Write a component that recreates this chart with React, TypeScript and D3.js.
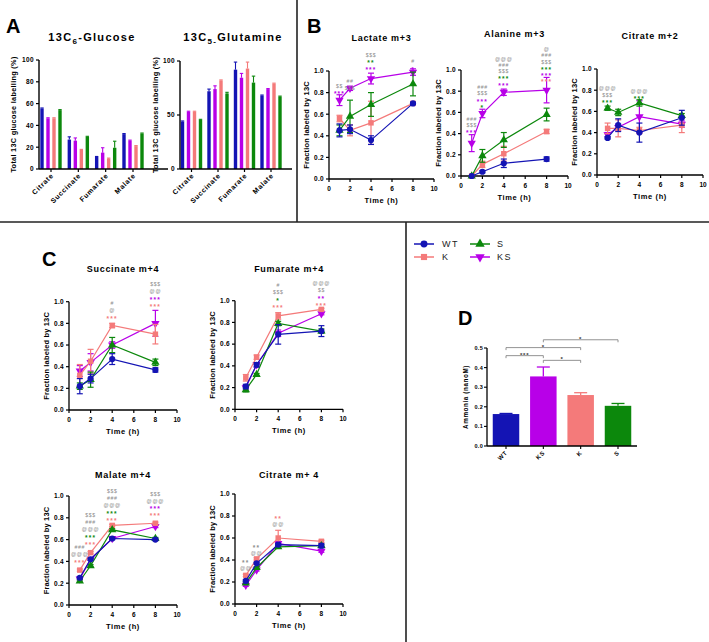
import React from "react";
import * as d3 from "d3";

const FONT = "'Liberation Sans', Arial, Helvetica, sans-serif";

// ---------------- groups ----------------
const groups = ["WT", "K", "S", "KS"];
const colors = ["#1414b4", "#f47a7a", "#0c880c", "#b800e8"];
const GREY = "#8c8c8c";
const colorOf = (g: string) => (g === "" ? GREY : colors[groups.indexOf(g)]);

// ---------------- Panel A ----------------
const metabolitesA = ["Citrate", "Succinate", "Fumarate", "Malate"];
const barGroupsA = ["WT", "KS", "K", "S"];
const glucoseMean = [
  [55.5, 27, 11, 32],
  [46.5, 26, 15, 26],
  [46.5, 17.5, 9.5, 21],
  [54, 29.5, 19.5, 32.5],
];
const glucoseErr = [
  [0.5, 2.5, 0.5, 0.5],
  [0.5, 2.5, 4.5, 0.5],
  [0.5, 0.5, 0.5, 0.5],
  [0.5, 0.5, 6, 0.5],
];
const glucoseTicks = [0, 20, 40, 60, 80, 100];
const glutamineMean = [
  [44, 72, 92, 68],
  [53, 74, 84.5, 74],
  [53, 82, 93, 79],
  [45.5, 70, 80, 67],
];
const glutamineErr = [
  [0.5, 2, 7, 0.5],
  [0.5, 3, 4, 0.5],
  [0.5, 0.5, 6, 0.5],
  [0.5, 1, 6, 0.5],
];
const glutamineTicks = [0, 50, 100];

// ---------------- Panels B / C ----------------
const timePoints = [1, 2, 4, 8];
const timeTicks = [0, 2, 4, 6, 8, 10];
const fracTicks = [0, 0.2, 0.4, 0.6, 0.8, 1.0];

// series order: WT, K, S, KS
const lactateMean = [
  [0.45, 0.46, 0.36, 0.70],
  [0.56, 0.45, 0.52, 0.70],
  [0.45, 0.58, 0.69, 0.88],
  [0.73, 0.84, 0.93, 0.99],
];
const lactateErr = [
  [0.06, 0.04, 0.04, 0.01],
  [0.03, 0.05, 0.2, 0.01],
  [0.05, 0.15, 0.11, 0.11],
  [0.05, 0.02, 0.05, 0.03],
];
const alanineMean = [
  [0.0, 0.04, 0.12, 0.16],
  [0.0, 0.11, 0.21, 0.42],
  [0.0, 0.19, 0.34, 0.58],
  [0.31, 0.59, 0.79, 0.81],
];
const alanineErr = [
  [0, 0.01, 0.04, 0.02],
  [0, 0.03, 0.07, 0.02],
  [0, 0.06, 0.07, 0.06],
  [0.08, 0.04, 0.03, 0.12],
];
const citrate2Mean = [
  [0.35, 0.47, 0.40, 0.54],
  [0.44, 0.44, 0.42, 0.47],
  [0.63, 0.59, 0.68, 0.56],
  [0.38, 0.45, 0.55, 0.48],
];
const citrate2Err = [
  [0.01, 0.06, 0.09, 0.07],
  [0.05, 0.08, 0.03, 0.07],
  [0.02, 0.03, 0.03, 0.02],
  [0.02, 0.03, 0.15, 0.03],
];
const succinateMean = [
  [0.22, 0.29, 0.47, 0.37],
  [0.32, 0.45, 0.78, 0.70],
  [0.22, 0.28, 0.60, 0.44],
  [0.36, 0.44, 0.60, 0.80],
];
const succinateErr = [
  [0.07, 0.04, 0.05, 0.02],
  [0.1, 0.11, 0.02, 0.09],
  [0.03, 0.07, 0.07, 0.03],
  [0.05, 0.08, 0.03, 0.12],
];
const fumarateMean = [
  [0.21, 0.41, 0.69, 0.72],
  [0.29, 0.48, 0.86, 0.92],
  [0.18, 0.32, 0.79, 0.72],
  [0.20, 0.41, 0.70, 0.88],
];
const fumarateErr = [
  [0.02, 0.02, 0.09, 0.05],
  [0.03, 0.02, 0.03, 0.01],
  [0.02, 0.01, 0.02, 0.02],
  [0.02, 0.02, 0.03, 0.01],
];
const malateMean = [
  [0.25, 0.42, 0.61, 0.60],
  [0.32, 0.48, 0.73, 0.75],
  [0.22, 0.36, 0.69, 0.61],
  [0.24, 0.42, 0.61, 0.72],
];
const malateErr = [
  [0.01, 0.01, 0.01, 0.01],
  [0.01, 0.01, 0.01, 0.01],
  [0.01, 0.01, 0.01, 0.01],
  [0.01, 0.01, 0.01, 0.01],
];
const citrate4Mean = [
  [0.21, 0.37, 0.54, 0.53],
  [0.26, 0.41, 0.60, 0.57],
  [0.19, 0.33, 0.52, 0.53],
  [0.17, 0.31, 0.55, 0.48],
];
const citrate4Err = [
  [0.01, 0.01, 0.01, 0.02],
  [0.01, 0.01, 0.07, 0.01],
  [0.01, 0.01, 0.01, 0.01],
  [0.01, 0.01, 0.01, 0.01],
];

type Note = { t: number; v: number; lines: [string, string][] };
const lactateNotes: Note[] = [
  { t: 1, v: 0.8, lines: [["$$", ""], ["***", "KS"]] },
  { t: 2, v: 0.845, lines: [["##", ""], ["$$$", ""]] },
  { t: 4, v: 1.03, lines: [["$$$", ""], ["**", "S"], ["***", "KS"]] },
  { t: 8, v: 1.03, lines: [["#", ""], ["*", "KS"]] },
];
const alanineNotes: Note[] = [
  { t: 1, v: 0.42, lines: [["###", ""], ["$$$", ""], ["***", "KS"]] },
  { t: 2, v: 0.66, lines: [["###", ""], ["$$$", ""], ["***", "KS"], ["*", "S"]] },
  { t: 4, v: 0.87, lines: [["@@@", ""], ["###", ""], ["$$$", ""], ["***", "S"], ["***", "KS"]] },
  { t: 8, v: 0.9, lines: [["@", ""], ["###", ""], ["$$$", ""], ["***", "S"], ["***", "KS"], ["***", "K"]] },
];
const citrate2Notes: Note[] = [
  { t: 1, v: 0.7, lines: [["@@@", ""], ["$$$", ""], ["***", "S"]] },
  { t: 4, v: 0.73, lines: [["@@@", ""], ["***", "S"]] },
];
const succinateNotes: Note[] = [
  { t: 4, v: 0.86, lines: [["#", ""], ["@", ""], ["***", "K"]] },
  { t: 8, v: 0.97, lines: [["$$$", ""], ["@@", ""], ["***", "KS"], ["***", "K"]] },
];
const fumarateNotes: Note[] = [
  { t: 4, v: 0.95, lines: [["#", ""], ["$$$", ""], ["*", "S"], ["***", "K"]] },
  { t: 8, v: 0.97, lines: [["@@@", ""], ["$$", ""], ["**", "KS"], ["***", "K"]] },
];
const malateNotes: Note[] = [
  { t: 1, v: 0.4, lines: [["###", ""], ["@@@", ""], ["***", "K"]] },
  { t: 2, v: 0.57, lines: [["$$$", ""], ["###", ""], ["@@@", ""], ["***", "S"], ["***", "K"]] },
  { t: 4, v: 0.79, lines: [["$$$", ""], ["###", ""], ["@@@", ""], ["***", "S"], ["***", "K"]] },
  { t: 8, v: 0.83, lines: [["$$$", ""], ["@@@", ""], ["***", "KS"], ["***", "K"]] },
];
const citrate4Notes: Note[] = [
  { t: 1, v: 0.33, lines: [["**", ""], ["@@", ""]] },
  { t: 2, v: 0.46, lines: [["**", ""], ["@@", ""]] },
  { t: 4, v: 0.73, lines: [["**", "K"], ["@@", ""]] },
];

// ---------------- Panel D ----------------
const ammoniaGroups = ["WT", "KS", "K", "S"];
const ammoniaMean = [0.163, 0.355, 0.26, 0.205];
const ammoniaErr = [0.003, 0.048, 0.012, 0.012];
const ammoniaTicks = [0, 0.1, 0.2, 0.3, 0.4, 0.5];
const ammoniaComparisons: [string, string, string, number][] = [
  ["KS", "S", "*", 0.542],
  ["WT", "K", "*", 0.502],
  ["WT", "KS", "***", 0.461],
  ["KS", "K", "*", 0.437],
];

// ---------------- helpers ----------------
function Marker({ g, x, y, size = 30 }: { g: string; x: number; y: number; size?: number }) {
  const i = groups.indexOf(g);
  const type = [d3.symbolCircle, d3.symbolSquare, d3.symbolTriangle, d3.symbolTriangle][i];
  const d = d3.symbol().type(type).size(size)() as string;
  return (
    <path
      d={d}
      transform={`translate(${x},${y})${i === 3 ? " rotate(180)" : ""}`}
      fill={colors[i]}
    />
  );
}

type LineProps = {
  title: string;
  titleY: number;
  x0: number;
  x1: number;
  yTop: number;
  yBot: number;
  means: number[][];
  errs: number[][];
  notes: Note[];
  gap: number;
};

function LinePanel({ title, titleY, x0, x1, yTop, yBot, means, errs, notes, gap }: LineProps) {
  const x = d3.scaleLinear().domain([0, 10]).range([x0, x1]);
  const y = d3.scaleLinear().domain([0, 1]).range([yBot, yTop]);
  const line = d3
    .line<number>()
    .x((_, i) => x(timePoints[i]))
    .y((d) => y(d));
  const order = [3, 1, 2, 0];
  const fmt = d3.format(".1f");
  return (
    <g fontFamily={FONT} fontWeight="bold">
      <text x={(x0 + x1) / 2} y={titleY} textAnchor="middle" fontSize={9} letterSpacing={0.7}>
        {title}
      </text>
      <line x1={x0} x2={x1} y1={yBot} y2={yBot} stroke="#000" strokeWidth={1.3} />
      <line x1={x0} x2={x0} y1={yBot} y2={yTop} stroke="#000" strokeWidth={1.3} />
      {timeTicks.map((t) => (
        <g key={"xt" + t}>
          <line x1={x(t)} x2={x(t)} y1={yBot} y2={yBot + 3} stroke="#000" strokeWidth={1.2} />
          <text x={x(t)} y={yBot + 11.5} textAnchor="middle" fontSize={6.5}>
            {t}
          </text>
        </g>
      ))}
      {fracTicks.map((v) => (
        <g key={"yt" + v}>
          <line x1={x0 - 3} x2={x0} y1={y(v)} y2={y(v)} stroke="#000" strokeWidth={1.2} />
          <text x={x0 - 5} y={y(v) + 2.3} textAnchor="end" fontSize={6.5} letterSpacing={0.3}>
            {fmt(v)}
          </text>
        </g>
      ))}
      <text
        x={(x0 + x1) / 2}
        y={yBot + 24}
        textAnchor="middle"
        fontSize={7.5}
        letterSpacing={0.6}
      >
        Time (h)
      </text>
      <text
        transform={`translate(${x0 - 20},${(yTop + yBot) / 2}) rotate(-90)`}
        textAnchor="middle"
        fontSize={7.5}
        letterSpacing={0.15}
      >
        Fraction labeled by 13C
      </text>
      {order.map((i) => (
        <g key={"s" + i}>
          <path d={line(means[i]) as string} fill="none" stroke={colors[i]} strokeWidth={1.2} />
          {means[i].map((m, j) =>
            errs[i][j] > 0.005 ? (
              <g key={"e" + j} stroke={colors[i]} strokeWidth={1.2}>
                <line
                  x1={x(timePoints[j])}
                  x2={x(timePoints[j])}
                  y1={y(m - errs[i][j])}
                  y2={y(m + errs[i][j])}
                />
                <line
                  x1={x(timePoints[j]) - 3}
                  x2={x(timePoints[j]) + 3}
                  y1={y(m + errs[i][j])}
                  y2={y(m + errs[i][j])}
                />
                <line
                  x1={x(timePoints[j]) - 3}
                  x2={x(timePoints[j]) + 3}
                  y1={y(m - errs[i][j])}
                  y2={y(m - errs[i][j])}
                />
              </g>
            ) : null
          )}
          {means[i].map((m, j) => (
            <Marker key={"m" + j} g={groups[i]} x={x(timePoints[j])} y={y(m)} size={30} />
          ))}
        </g>
      ))}
      {notes.map((n, k) =>
        n.lines.map(([txt, g], li) => {
          const yy = y(n.v) - (n.lines.length - 1 - li) * gap;
          const star = txt.startsWith("*");
          return (
            <text
              key={"n" + k + "_" + li}
              x={x(n.t)}
              y={yy + (star ? 3.8 : 2)}
              textAnchor="middle"
              fontSize={star ? 6.5 : 5.2}
              fontWeight={star ? "bold" : "normal"}
              letterSpacing={star ? 1.2 : 0.6}
              fill={colorOf(g)}
            >
              {txt}
            </text>
          );
        })
      )}
    </g>
  );
}

type BarProps = {
  axisX: number;
  axisEnd: number;
  yTop: number;
  yBot: number;
  c0: number;
  c3: number;
  means: number[][];
  errs: number[][];
  ticks: number[];
  labelX: number;
};

function BarPanelA({ axisX, axisEnd, yTop, yBot, c0, c3, means, errs, ticks, labelX }: BarProps) {
  const y = d3.scaleLinear().domain([0, 100]).range([yBot, yTop]);
  const bx = d3.scalePoint<string>().domain(metabolitesA).range([c0, c3]);
  const inner = d3.scaleBand<string>().domain(barGroupsA).range([-12, 12]);
  const bw = 3.4;
  return (
    <g fontFamily={FONT} fontWeight="bold">
      {barGroupsA.map((g, gi) =>
        metabolitesA.map((m, mi) => {
          const cx = (bx(m) as number) + (inner(g) as number) + inner.bandwidth() / 2;
          const col = colorOf(g);
          const top = y(means[gi][mi] + errs[gi][mi]);
          return (
            <g key={g + m}>
              <line x1={cx} x2={cx} y1={y(means[gi][mi])} y2={top} stroke={col} strokeWidth={1.1} />
              <line x1={cx - bw / 2} x2={cx + bw / 2} y1={top} y2={top} stroke={col} strokeWidth={1.1} />
              <rect
                x={cx - bw / 2}
                y={y(means[gi][mi])}
                width={bw}
                height={yBot - y(means[gi][mi])}
                fill={col}
              />
            </g>
          );
        })
      )}
      <line x1={axisX} x2={axisEnd} y1={yBot} y2={yBot} stroke="#000" strokeWidth={1.4} />
      <line x1={axisX} x2={axisX} y1={yBot} y2={yTop} stroke="#000" strokeWidth={1.4} />
      {ticks.map((v) => (
        <g key={"t" + v}>
          <line x1={axisX - 3} x2={axisX} y1={y(v)} y2={y(v)} stroke="#000" strokeWidth={1.2} />
          <text x={axisX - 5} y={y(v) + 2.3} textAnchor="end" fontSize={6.5} letterSpacing={0.4}>
            {v}
          </text>
        </g>
      ))}
      {metabolitesA.map((m) => (
        <g key={"x" + m}>
          <line
            x1={bx(m) as number}
            x2={bx(m) as number}
            y1={yBot}
            y2={yBot + 3}
            stroke="#000"
            strokeWidth={1.2}
          />
          <text
            transform={`translate(${(bx(m) as number) + 3},${yBot + 7}) rotate(-45)`}
            textAnchor="end"
            fontSize={7}
            letterSpacing={0.7}
          >
            {m}
          </text>
        </g>
      ))}
      <text
        transform={`translate(${labelX},${(yTop + yBot) / 2}) rotate(-90)`}
        textAnchor="middle"
        fontSize={7.3}
        letterSpacing={0.3}
      >
        Total 13C glucose labelling (%)
      </text>
    </g>
  );
}

function PanelD() {
  const y = d3.scaleLinear().domain([0, 0.5]).range([446, 348]);
  const bx = d3.scalePoint<string>().domain(ammoniaGroups).range([506, 618]);
  const bw = 26.5;
  const axisX = 487;
  const fmt = d3.format(".1f");
  return (
    <g fontFamily={FONT} fontWeight="bold">
      {ammoniaGroups.map((g, i) => {
        const cx = bx(g) as number;
        const col = colorOf(g);
        const top = y(ammoniaMean[i] + ammoniaErr[i]);
        return (
          <g key={g}>
            <line x1={cx} x2={cx} y1={y(ammoniaMean[i])} y2={top} stroke={col} strokeWidth={1.3} />
            <line x1={cx - 6.5} x2={cx + 6.5} y1={top} y2={top} stroke={col} strokeWidth={1.3} />
            <rect
              x={cx - bw / 2}
              y={y(ammoniaMean[i])}
              width={bw}
              height={y(0) - y(ammoniaMean[i])}
              fill={col}
            />
            <line x1={cx} x2={cx} y1={y(0)} y2={y(0) + 3} stroke="#000" strokeWidth={1.1} />
            <text
              transform={`translate(${cx + 2},${y(0) + 7}) rotate(-45)`}
              textAnchor="end"
              fontSize={6}
              letterSpacing={0.8}
            >
              {g}
            </text>
          </g>
        );
      })}
      <line x1={axisX} x2={637} y1={y(0)} y2={y(0)} stroke="#000" strokeWidth={1.3} />
      <line x1={axisX} x2={axisX} y1={y(0)} y2={y(0.5)} stroke="#000" strokeWidth={1.3} />
      {ammoniaTicks.map((v) => (
        <g key={"t" + v}>
          <line x1={axisX - 3} x2={axisX} y1={y(v)} y2={y(v)} stroke="#000" strokeWidth={1.1} />
          <text x={axisX - 4} y={y(v) + 2} textAnchor="end" fontSize={5.5} letterSpacing={0.3}>
            {fmt(v)}
          </text>
        </g>
      ))}
      <text
        transform={`translate(468,${(y(0) + y(0.5)) / 2}) rotate(-90)`}
        textAnchor="middle"
        fontSize={6.3}
        letterSpacing={0.6}
      >
        Ammonia (nanoM)
      </text>
      {ammoniaComparisons.map(([a, b, lab, v], k) => {
        const xa = bx(a) as number;
        const xb = bx(b) as number;
        const yy = y(v);
        return (
          <g key={"c" + k}>
            <path
              d={`M${xa},${yy + 2.5}V${yy}H${xb}V${yy + 2.5}`}
              fill="none"
              stroke="#777"
              strokeWidth={0.8}
            />
            <text x={(xa + xb) / 2} y={yy + 1} textAnchor="middle" fontSize={6} fill="#333" letterSpacing={0.8}>
              {lab}
            </text>
          </g>
        );
      })}
    </g>
  );
}

function Legend() {
  const rows = [
    ["WT", 424, 244, 442],
    ["S", 480, 244, 497],
    ["K", 424, 257, 442],
    ["KS", 480, 257, 497],
  ] as [string, number, number, number][];
  return (
    <g fontFamily={FONT}>
      {rows.map(([g, mx, my, tx]) => (
        <g key={g}>
          <line x1={mx - 10} x2={mx + 10} y1={my} y2={my} stroke={colorOf(g)} strokeWidth={1.5} />
          <Marker g={g} x={mx} y={my} size={38} />
          <text x={tx} y={my + 3.3} fontSize={9} letterSpacing={1.5} fill="#222">
            {g}
          </text>
        </g>
      ))}
    </g>
  );
}

export default function App() {
  return (
    <svg
      width={709}
      height={642}
      style={{ position: "absolute", left: 0, top: 0, background: "#fff" }}
      fontFamily={FONT}
    >
      <rect width={709} height={642} fill="#fff" />
      {/* separators */}
      <line x1={0} x2={709} y1={222} y2={222} stroke="#222" strokeWidth={1.6} />
      <line x1={297} x2={297} y1={0} y2={222} stroke="#222" strokeWidth={1.6} />
      <line x1={406} x2={406} y1={222} y2={642} stroke="#222" strokeWidth={1.6} />

      {/* panel labels */}
      <text x={6} y={33} fontSize={20} fontWeight="bold" fontFamily={FONT}>A</text>
      <text x={307} y={33} fontSize={20} fontWeight="bold" fontFamily={FONT}>B</text>
      <text x={42} y={266} fontSize={20} fontWeight="bold" fontFamily={FONT}>C</text>
      <text x={458} y={325} fontSize={20} fontWeight="bold" fontFamily={FONT}>D</text>

      {/* Panel A */}
      <text x={92} y={41} textAnchor="middle" fontSize={11} fontWeight="bold" letterSpacing={1.3} fontFamily={FONT}>
        13C<tspan dy={3} fontSize={8}>6</tspan>
        <tspan dy={-3}>-Glucose</tspan>
      </text>
      <BarPanelA
        axisX={39}
        axisEnd={168}
        yTop={60}
        yBot={169}
        c0={51}
        c3={133}
        means={glucoseMean}
        errs={glucoseErr}
        ticks={glucoseTicks}
        labelX={16}
      />
      <text x={233} y={41} textAnchor="middle" fontSize={11} fontWeight="bold" letterSpacing={1.3} fontFamily={FONT}>
        13C<tspan dy={3} fontSize={8}>5-</tspan>
        <tspan dy={-3}>Glutamine</tspan>
      </text>
      <BarPanelA
        axisX={180}
        axisEnd={292}
        yTop={61}
        yBot={169}
        c0={191.5}
        c3={271}
        means={glutamineMean}
        errs={glutamineErr}
        ticks={glutamineTicks}
        labelX={158}
      />

      {/* Panel B */}
      <LinePanel title="Lactate m+3" titleY={41} x0={329} x1={434} yTop={71} yBot={179}
        means={lactateMean} errs={lactateErr} notes={lactateNotes} gap={6.3} />
      <LinePanel title="Alanine m+3" titleY={36.5} x0={461} x1={568} yTop={70} yBot={176}
        means={alanineMean} errs={alanineErr} notes={alanineNotes} gap={6.3} />
      <LinePanel title="Citrate m+2" titleY={39} x0={597} x1={703} yTop={69} yBot={175}
        means={citrate2Mean} errs={citrate2Err} notes={citrate2Notes} gap={6.3} />

      {/* Panel C */}
      <LinePanel title="Succinate m+4" titleY={272} x0={69} x1={177} yTop={301.7} yBot={410}
        means={succinateMean} errs={succinateErr} notes={succinateNotes} gap={7} />
      <LinePanel title="Fumarate m+4" titleY={272} x0={235} x1={343} yTop={300.7} yBot={409.3}
        means={fumarateMean} errs={fumarateErr} notes={fumarateNotes} gap={7} />
      <LinePanel title="Malate m+4" titleY={478} x0={69} x1={177} yTop={496} yBot={605}
        means={malateMean} errs={malateErr} notes={malateNotes} gap={7} />
      <LinePanel title="Citrate m+ 4" titleY={478} x0={235} x1={343} yTop={494} yBot={604}
        means={citrate4Mean} errs={citrate4Err} notes={citrate4Notes} gap={7} />

      <Legend />
      <PanelD />
    </svg>
  );
}
